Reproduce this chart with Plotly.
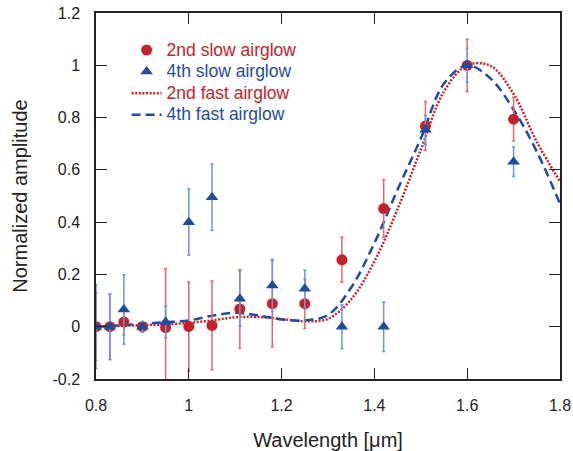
import plotly.graph_objects as go

# ---- data ----
wl_slow = [0.80, 0.83, 0.86, 0.90, 0.95, 1.00, 1.05, 1.11, 1.18, 1.25, 1.33, 1.42, 1.51, 1.60, 1.70]
slow2 = [0.0, 0.0, 0.018, 0.0, -0.003, 0.001, 0.005, 0.068, 0.088, 0.088, 0.256, 0.452, 0.768, 1.0, 0.794]
slow2_err = [0.13, 0.125, 0.05, 0.02, 0.225, 0.17, 0.17, 0.15, 0.165, 0.095, 0.086, 0.11, 0.093, 0.1, 0.084]
slow4 = [0.0, 0.0, 0.066, 0.0, 0.018, 0.40, 0.495, 0.107, 0.158, 0.145, 0.0, 0.0, 0.753, 1.0, 0.631]
slow4_err = [0.16, 0.125, 0.133, 0.02, 0.06, 0.127, 0.127, 0.105, 0.10, 0.072, 0.084, 0.095, 0.055, 0.065, 0.056]

wl_fast = [0.80, 0.85, 0.90, 0.95, 1.00, 1.05, 1.10, 1.15, 1.20, 1.25, 1.30, 1.35, 1.40,
           1.45, 1.50, 1.55, 1.60, 1.65, 1.70, 1.75, 1.80]
fast2 = [0.0, 0.003, 0.006, 0.009, 0.015, 0.024, 0.036, 0.037, 0.029, 0.021, 0.03, 0.105, 0.25,
         0.45, 0.677, 0.90, 1.0, 0.998, 0.89, 0.707, 0.555]
fast4 = [0.0, 0.005, 0.011, 0.017, 0.024, 0.042, 0.053, 0.043, 0.028, 0.024, 0.045, 0.15, 0.32,
         0.525, 0.72, 0.93, 1.0, 0.95, 0.83, 0.67, 0.47]

x_tickvals = [0.8, 1.0, 1.2, 1.4, 1.6, 1.8]
x_ticktext = ["0.8", "1", "1.2", "1.4", "1.6", "1.8"]
y_tickvals = [-0.2, 0.0, 0.2, 0.4, 0.6, 0.8, 1.0, 1.2]
y_ticktext = ["-0.2", "0", "0.2", "0.4", "0.6", "0.8", "1", "1.2"]

RED = "#c8202a"
BLUE = "#1f4ca3"
RED_ERR = "#dc6a72"
BLUE_ERR = "#6b98da"
FONT = "Arial, Liberation Sans, sans-serif"


def legend_name(text, color):
    return f'<span style="color:{color};font-size:17.5px">{text}</span>'


fig = go.Figure()

fig.add_trace(go.Scatter(
    x=wl_fast, y=fast2, mode="lines", line_shape="spline",
    line=dict(color=RED, width=2.5, dash="2px,1.6px"),
    name=legend_name("2nd fast airglow", RED), legendrank=3))
fig.add_trace(go.Scatter(
    x=wl_fast, y=fast4, mode="lines", line_shape="spline",
    line=dict(color=BLUE, width=2.5, dash="9px,5px"),
    name=legend_name("4th fast airglow", BLUE), legendrank=4))

fig.add_trace(go.Scatter(
    x=wl_slow, y=slow2, mode="markers",
    marker=dict(symbol="circle", size=11, color=RED),
    error_y=dict(type="data", array=slow2_err, color=RED_ERR, thickness=1.5, width=1.5),
    name=legend_name("2nd slow airglow", RED), legendrank=1))
fig.add_trace(go.Scatter(
    x=wl_slow, y=slow4, mode="markers",
    marker=dict(symbol="triangle-up", size=11, color=BLUE),
    error_y=dict(type="data", array=slow4_err, color=BLUE_ERR, thickness=1.5, width=1.5),
    name=legend_name("4th slow airglow", BLUE), legendrank=2))

axis_common = dict(
    showline=True, linecolor="#222", linewidth=1.5, mirror="ticks",
    ticks="inside", ticklen=11, tickwidth=1.3, tickcolor="#222",
    showgrid=False, zeroline=False, automargin=False,
    ticklabeloverflow="allow",
    tickfont=dict(family=FONT, size=16, color="#222"),
)

fig.update_xaxes(range=[0.8, 1.8], tickvals=x_tickvals, ticktext=x_ticktext,
                 ticklabelstandoff=11,
                 title=dict(text="Wavelength [μm]", font=dict(family=FONT, size=20, color="#222"), standoff=22),
                 **axis_common)
fig.update_yaxes(range=[-0.2, 1.2], tickvals=y_tickvals, ticktext=y_ticktext,
                 ticklabelstandoff=11,
                 title=dict(text="Normalized amplitude", font=dict(family=FONT, size=20, color="#222"), standoff=19),
                 **axis_common)

fig.update_layout(
    width=573, height=451,
    margin=dict(l=95.5, r=13, t=12.7, b=72.3),
    paper_bgcolor="white", plot_bgcolor="white",
    font=dict(family=FONT, size=16),
    showlegend=True,
    legend=dict(x=0.066, y=0.942, xanchor="left", yanchor="top",
                bgcolor="rgba(0,0,0,0)", borderwidth=0,
                font=dict(family=FONT, size=14.3), itemwidth=30,
                traceorder="normal"),
)

# remove the default page margin so the figure fills the window exactly
fig.write_html("out.html",
               config={"displayModeBar": False},
               post_script="document.body.style.margin='0';document.body.style.overflow='hidden';")
